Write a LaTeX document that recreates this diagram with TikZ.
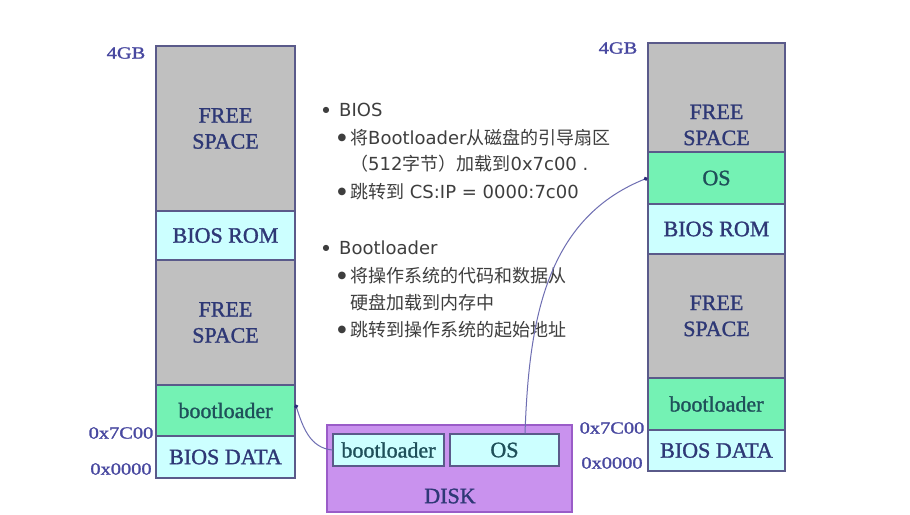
\documentclass[tikz,border=0pt]{standalone}
\usepackage{fontspec}
\usepackage{graphicx}
\setmainfont[FakeBold=1.3]{Liberation Serif}
\newfontfamily\cjk{Noto Sans CJK SC}
\newfontfamily\lat{DejaVu Sans}
\usetikzlibrary{arrows.meta}
\definecolor{gfill}{HTML}{C0C0C0}
\definecolor{cfill}{HTML}{CCFFFF}
\definecolor{mfill}{HTML}{74F2B4}
\definecolor{dfill}{HTML}{C992EE}
\definecolor{dborder}{HTML}{9A5CC8}
\definecolor{bcol}{HTML}{5A5A8A}
\definecolor{navy}{HTML}{2E3876}
\definecolor{teal}{HTML}{1F505A}
\definecolor{lblcol}{HTML}{4848A0}
\definecolor{txtcol}{HTML}{3E3E3E}
\definecolor{conncol}{HTML}{6E6EB2}
\definecolor{tipcol}{HTML}{2C2C7A}
\newcommand{\wide}[1]{\scalebox{1.2}[1]{#1}}
\begin{document}
\begin{tikzpicture}[x=1pt,y=-1pt,
  blk/.style={draw=bcol, line width=1.1pt, inner sep=0pt, align=center,
    font=\fontsize{22}{26}\selectfont, text=navy},
  memtxt/.style={inner sep=0pt, align=center, font=\fontsize{22}{26}\selectfont, text=navy},
  addr/.style={inner sep=0pt, font=\fontsize{17}{20}\selectfont, text=lblcol},
  note/.style={inner sep=0pt, anchor=west, font=\cjk\fontsize{18}{22}\selectfont, text=txtcol},
  bul/.style={inner sep=0pt, font=\lat\fontsize{8}{10}\selectfont, text=txtcol},
  sbul/.style={inner sep=0pt, font=\lat\fontsize{10}{12}\selectfont, text=txtcol},
  conn/.style={draw=conncol, line width=1pt, -{Circle[length=4pt, fill=tipcol, color=tipcol]}}
]
\useasboundingbox[fill=white] (0,0) rectangle (910,514);

% left memory column
\node[blk, fill=gfill, minimum width=139pt, minimum height=165pt] (lfree1) at (225.5,128.5) {FREE\\SPACE};
\node[blk, fill=cfill, minimum width=139pt, minimum height=49pt] (lrom) at (225.5,235.5) {BIOS ROM};
\node[blk, fill=gfill, minimum width=139pt, minimum height=125pt] (lfree2) at (225.5,322.5) {FREE\\SPACE};
\node[blk, fill=mfill, text=teal, minimum width=139pt, minimum height=51pt] (lboot) at (225.5,410.5) {bootloader};
\node[blk, fill=cfill, minimum width=139pt, minimum height=42pt] (ldata) at (225.5,457) {BIOS DATA};
\node[addr] (l4gb) at (126,53) {\wide{4GB}};
\node[addr] (l7c) at (121,433) {\wide{0x7C00}};
\node[addr] (l00) at (121,469) {\wide{0x0000}};

% right memory column
\node[blk, fill=gfill, minimum width=137pt, minimum height=109pt] (rfree1) at (716.5,97.5) {};
\node[memtxt] (rfree1t) at (716.5,125) {FREE\\SPACE};
\node[blk, fill=mfill, text=teal, minimum width=137pt, minimum height=52pt] (ros) at (716.5,178) {OS};
\node[blk, fill=cfill, minimum width=137pt, minimum height=50pt] (rrom) at (716.5,229) {BIOS ROM};
\node[blk, fill=gfill, minimum width=137pt, minimum height=124pt] (rfree2) at (716.5,316) {FREE\\SPACE};
\node[blk, fill=mfill, text=teal, minimum width=137pt, minimum height=52pt] (rboot) at (716.5,404) {bootloader};
\node[blk, fill=cfill, minimum width=137pt, minimum height=41pt] (rdata) at (716.5,450.5) {BIOS DATA};
\node[addr] (r4gb) at (618,48) {\wide{4GB}};
\node[addr] (r7c) at (612,428) {\wide{0x7C00}};
\node[addr] (r00) at (612,463) {\wide{0x0000}};

% disk
\node[draw=dborder, fill=dfill, line width=1.3pt, minimum width=245pt, minimum height=87pt, inner sep=0pt] (disk) at (449.5,468.5) {};
\node[memtxt, text=navy] (disklbl) at (450,496) {DISK};
\node[blk, fill=cfill, text=teal, minimum width=111pt, minimum height=32pt] (dboot) at (388.5,450) {bootloader};
\node[blk, fill=cfill, text=teal, minimum width=109pt, minimum height=32pt] (dos) at (504.5,450) {OS};

% notes
\node[bul] (b1) at (326,110) {●};
\node[note] (t1) at (339,110) {\lat BIOS};
\node[sbul] (b2) at (342,138) {●};
\node[note] (t2) at (350,138) {将{\lat Bootloader}从磁盘的引导扇区};
\node[note] (t3) at (350,164) {（{\lat 512}字节）加载到{\lat 0x7c00 .}};
\node[sbul] (b4) at (342,192) {●};
\node[note] (t4) at (350,192) {跳转到{\lat\ CS:IP = 0000:7c00}};
\node[bul] (b5) at (326,248) {●};
\node[note] (t5) at (339,248) {\lat Bootloader};
\node[sbul] (b6) at (342,276) {●};
\node[note] (t6) at (350,276) {将操作系统的代码和数据从};
\node[note] (t7) at (350,303) {硬盘加载到内存中};
\node[sbul] (b8) at (342,330) {●};
\node[note] (t8) at (350,330) {跳转到操作系统的起始地址};

% connectors
\draw[conn] (dboot.west) to[out=175, in=-72] ([yshift=6pt]lboot.east);
\draw[conn] ([xshift=20.5pt]dos.north) to[out=88, in=-158] (ros.west);
\end{tikzpicture}
\end{document}
